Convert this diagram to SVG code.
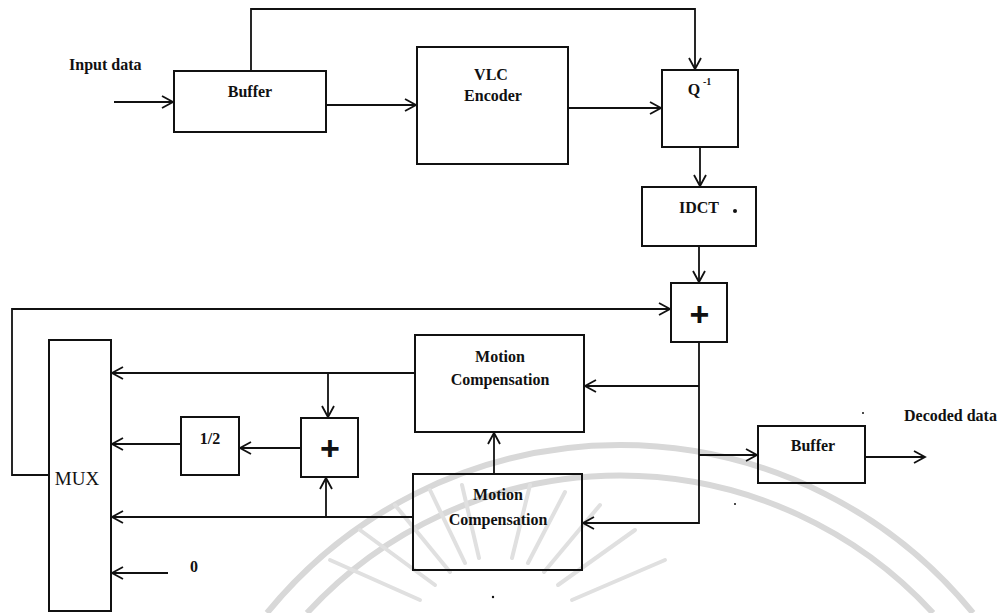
<svg xmlns="http://www.w3.org/2000/svg" width="1008" height="613" viewBox="0 0 1008 613">
<defs>
<marker id="arr" markerUnits="userSpaceOnUse" markerWidth="14" markerHeight="14" refX="12" refY="7" orient="auto">
<path d="M1,1 L12,7 L1,13" fill="none" stroke="#111" stroke-width="1.8"/>
</marker>
<style>
.box{fill:none;stroke:#111;stroke-width:2}
.ln{fill:none;stroke:#111;stroke-width:1.8}
.ar{marker-end:url(#arr)}
.t{font-family:"Liberation Serif","Times New Roman",serif;font-size:16px;font-weight:bold;fill:#111}
.c{text-anchor:middle}
.pl{font-family:"Liberation Sans",Arial,sans-serif;font-size:34px;font-weight:bold;fill:#111;text-anchor:middle}
.wm{fill:none;stroke:#d8d8d8;stroke-width:6}
.wr{fill:none;stroke:#e0e0e0;stroke-width:4;stroke-linecap:round}
</style>
</defs>
<rect width="1008" height="613" fill="#fff"/>
<g id="watermark">
<path class="wm" d="M267,613 A455,455 0 0 1 973,613"/>
<path class="wm" d="M307,613 A425,425 0 0 1 933,613"/>
<g class="wr">
<line x1="330" y1="560" x2="420" y2="600"/>
<line x1="360" y1="530" x2="435" y2="585"/>
<line x1="395" y1="505" x2="450" y2="572"/>
<line x1="430" y1="490" x2="465" y2="563"/>
<line x1="462" y1="485" x2="479" y2="558"/>
<line x1="530" y1="485" x2="512" y2="558"/>
<line x1="565" y1="492" x2="528" y2="563"/>
<line x1="600" y1="505" x2="544" y2="572"/>
<line x1="635" y1="530" x2="558" y2="585"/>
<line x1="665" y1="560" x2="572" y2="600"/>
</g>
</g>
<g id="connectors">
<path class="ln ar" d="M114,102 H173"/>
<path class="ln ar" d="M251,71 V9 H695 V69"/>
<path class="ln ar" d="M326,105 H416"/>
<path class="ln ar" d="M568,108 H661"/>
<path class="ln ar" d="M700,147 V186"/>
<path class="ln ar" d="M699,246 V282"/>
<path class="ln ar" d="M49,475 H12 V309 H670"/>
<path class="ln ar" d="M699,342 V523 H583"/>
<path class="ln ar" d="M699,386 H585"/>
<path class="ln ar" d="M699,455 H757"/>
<path class="ln ar" d="M865,457 H925"/>
<path class="ln ar" d="M415,373 H112"/>
<path class="ln ar" d="M328,373 V417"/>
<path class="ln ar" d="M301,448 H240"/>
<path class="ln ar" d="M181,444 H112"/>
<path class="ln ar" d="M413,517 H112"/>
<path class="ln ar" d="M326,517 V478"/>
<path class="ln ar" d="M168,573 H112"/>
<path class="ln ar" d="M494,474 V433"/>
</g>
<g id="labels">
<text class="t" x="69" y="70">Input data</text>
<text class="t" x="904" y="421">Decoded data</text>
<text class="t c" x="194" y="572">0</text>
</g>
<g id="buffer-in">
<rect class="box" x="174" y="71" width="152" height="61"/>
<text class="t c" x="250" y="97">Buffer</text>
</g>
<g id="vlc-encoder">
<rect class="box" x="417" y="47" width="151" height="117"/>
<text class="t c" x="491" y="80">VLC</text>
<text class="t c" x="493" y="101">Encoder</text>
</g>
<g id="q-inverse">
<rect class="box" x="662" y="70" width="76" height="77"/>
<text class="t c" x="694" y="95">Q</text>
<text class="t" x="703" y="85" style="font-size:10px">-1</text>
</g>
<g id="idct">
<rect class="box" x="642" y="187" width="114" height="59"/>
<text class="t c" x="699" y="213">IDCT</text>
<circle cx="735" cy="211" r="2" fill="#111"/>
</g>
<g id="adder-main">
<rect class="box" x="671" y="283" width="56" height="59"/>
<text class="pl" x="699.5" y="326">+</text>
</g>
<g id="motion-comp-1">
<rect class="box" x="415" y="335" width="169" height="97"/>
<text class="t c" x="500" y="362">Motion</text>
<text class="t c" x="500" y="385">Compensation</text>
</g>
<g id="motion-comp-2">
<rect class="box" x="413" y="474" width="169" height="96"/>
<text class="t c" x="498" y="500">Motion</text>
<text class="t c" x="498" y="525">Compensation</text>
</g>
<g id="buffer-out">
<rect class="box" x="758" y="426" width="107" height="57"/>
<text class="t c" x="813" y="451">Buffer</text>
</g>
<g id="mux">
<rect class="box" x="49" y="340" width="62" height="271"/>
<text class="t c" x="77" y="485" style="font-size:19px;font-weight:normal">MUX</text>
</g>
<g id="half">
<rect class="box" x="181" y="417" width="58" height="58"/>
<text class="t c" x="210" y="444">1/2</text>
</g>
<g id="adder-avg">
<rect class="box" x="301" y="418" width="57" height="59"/>
<text class="pl" x="330" y="460">+</text>
</g>
<g id="specks" fill="#111">
<circle cx="863" cy="413" r="1"/>
<circle cx="735" cy="504" r="1"/>
<circle cx="493" cy="597" r="1.2"/>
</g>
</svg>
